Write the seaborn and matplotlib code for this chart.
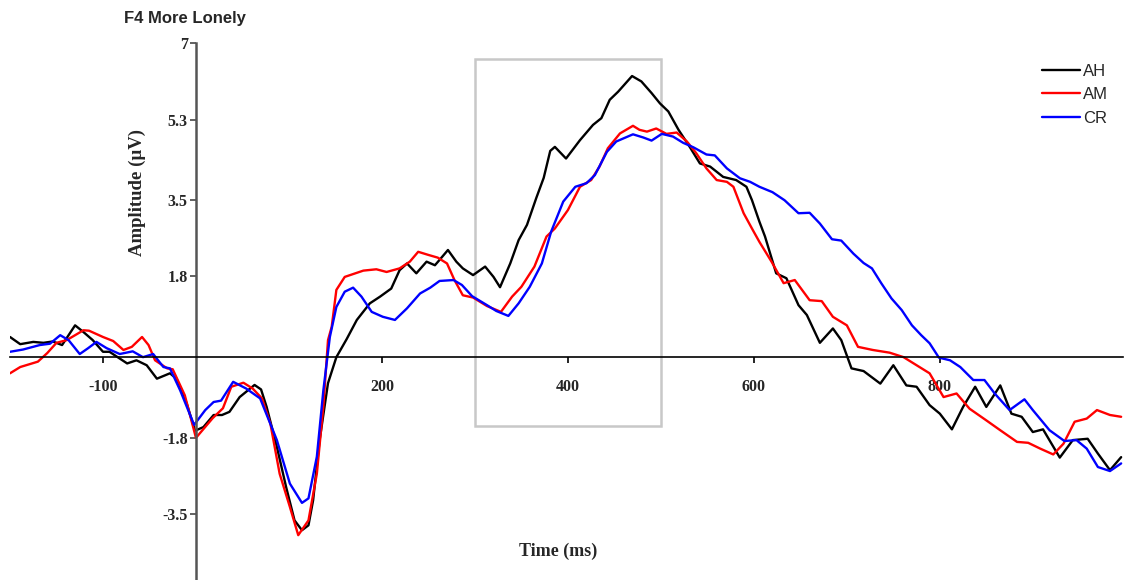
import numpy as np
import pandas as pd
import matplotlib
matplotlib.use("Agg")
import matplotlib.pyplot as plt
from matplotlib.patches import Rectangle
import seaborn as sns

# ERP waveforms at electrode F4, more-lonely group (time in ms, amplitude in µV)
ah_time = [-200, -189, -175, -164, -154, -144, -130, -121, -111, -100, -93, -74, -64, -53, -42, -28, -21, -10, -1,
           8, 19, 28, 36, 47, 63, 70, 76, 87, 97, 106, 114, 121, 126, 133, 142, 151, 162, 173, 187, 198, 210, 219,
           227, 237, 248, 257, 262, 271, 280, 287, 298, 311, 320, 327, 338, 347, 356, 366, 374, 381, 386, 398, 413,
           427, 436, 445, 454, 469, 479, 490, 499, 508, 519, 531, 542, 553, 567, 581, 592, 598, 606, 612, 624, 635,
           648, 657, 671, 685, 694, 705, 718, 736, 750, 764, 775, 789, 800, 813, 825, 838, 850, 865, 877, 888, 900,
           911, 929, 943, 959, 970, 983, 995]
ah_amp = [0.45, 0.29, 0.34, 0.32, 0.35, 0.27, 0.71, 0.56, 0.38, 0.12, 0.12, -0.14, -0.07, -0.18, -0.48, -0.36, -0.48,
          -1.03, -1.64, -1.56, -1.29, -1.29, -1.22, -0.89, -0.62, -0.72, -1.11, -2.0, -2.9, -3.64, -3.86, -3.75,
          -3.19, -1.85, -0.58, 0.0, 0.40, 0.83, 1.20, 1.35, 1.53, 1.94, 2.09, 1.87, 2.13, 2.05, 2.17, 2.39, 2.13,
          1.98, 1.83, 2.02, 1.79, 1.56, 2.09, 2.61, 2.95, 3.55, 4.0, 4.6, 4.69, 4.43, 4.84, 5.18, 5.33, 5.74, 5.92,
          6.27, 6.15, 5.89, 5.66, 5.48, 5.07, 4.69, 4.32, 4.25, 4.02, 3.95, 3.80, 3.50, 3.02, 2.69, 1.87, 1.76,
          1.16, 0.94, 0.32, 0.64, 0.38, -0.25, -0.31, -0.59, -0.18, -0.63, -0.66, -1.07, -1.26, -1.61, -1.11,
          -0.66, -1.11, -0.63, -1.26, -1.33, -1.67, -1.61, -2.24, -1.85, -1.82, -2.15, -2.52, -2.23]

am_time = [-200, -189, -170, -160, -150, -139, -121, -115, -100, -89, -78, -69, -58, -51, -44, -31, -25, -12, 0,
           18, 29, 38, 51, 61, 71, 80, 90, 101, 110, 121, 130, 137, 142, 146, 151, 160, 180, 194, 205, 219, 230,
           239, 250, 260, 270, 278, 287, 298, 313, 328, 340, 350, 364, 377, 386, 400, 413, 425, 434, 443, 456, 470,
           477, 485, 495, 506, 517, 528, 538, 549, 560, 571, 578, 589, 599, 606, 619, 632, 644, 660, 673, 685, 700,
           712, 728, 746, 761, 775, 789, 804, 818, 832, 850, 865, 883, 895, 908, 922, 933, 945, 958, 969, 983, 995]
am_amp = [-0.36, -0.22, -0.10, 0.09, 0.32, 0.38, 0.60, 0.59, 0.45, 0.36, 0.16, 0.23, 0.45, 0.27, -0.07, -0.25,
          -0.27, -0.85, -1.80, -1.36, -1.14, -0.66, -0.57, -0.70, -0.92, -1.48, -2.6, -3.34, -3.97, -3.64, -2.6,
          -1.1, 0.38, 0.68, 1.50, 1.79, 1.93, 1.96, 1.90, 1.98, 2.13, 2.35, 2.28, 2.22, 2.09, 1.72, 1.38, 1.33,
          1.14, 1.01, 1.35, 1.57, 2.02, 2.69, 2.87, 3.28, 3.80, 3.95, 4.25, 4.66, 4.99, 5.16, 5.07, 5.03, 5.10,
          4.98, 5.01, 4.81, 4.55, 4.21, 3.95, 3.91, 3.80, 3.21, 2.83, 2.57, 2.13, 1.65, 1.72, 1.27, 1.25, 0.90,
          0.71, 0.23, 0.16, 0.10, 0.0, -0.18, -0.36, -0.89, -0.81, -1.15, -1.41, -1.63, -1.89, -1.91, -2.04,
          -2.17, -1.93, -1.44, -1.37, -1.18, -1.29, -1.33]

cr_time = [-200, -186, -168, -157, -146, -137, -125, -116, -107, -96, -82, -68, -57, -46, -35, -28, -17, -2, 10,
           19, 27, 40, 54, 69, 87, 101, 114, 121, 130, 137, 144, 151, 160, 169, 178, 189, 201, 214, 227, 241, 252,
           262, 277, 286, 297, 313, 323, 336, 347, 359, 372, 382, 395, 408, 420, 429, 442, 452, 470, 481, 490, 501,
           513, 524, 535, 549, 558, 571, 585, 596, 606, 620, 633, 648, 660, 671, 684, 694, 707, 718, 727, 737, 748,
           759, 770, 780, 789, 799, 811, 822, 836, 848, 859, 875, 891, 900, 918, 934, 947, 958, 970, 983, 995]
cr_amp = [0.12, 0.17, 0.27, 0.30, 0.49, 0.38, 0.07, 0.20, 0.34, 0.20, 0.07, 0.13, 0.0, 0.07, -0.22, -0.25, -0.74,
          -1.51, -1.18, -1.0, -0.97, -0.55, -0.70, -0.92, -1.85, -2.82, -3.25, -3.15, -2.22, -0.74, 0.45, 1.12,
          1.46, 1.55, 1.35, 1.01, 0.90, 0.83, 1.09, 1.42, 1.55, 1.70, 1.72, 1.61, 1.36, 1.16, 1.03, 0.92, 1.20,
          1.57, 2.09, 2.80, 3.47, 3.80, 3.88, 4.06, 4.58, 4.81, 4.97, 4.90, 4.83, 4.98, 4.92, 4.78, 4.68, 4.52,
          4.50, 4.21, 3.99, 3.91, 3.80, 3.68, 3.50, 3.21, 3.22, 2.98, 2.63, 2.60, 2.31, 2.10, 1.98, 1.65, 1.31,
          1.05, 0.71, 0.49, 0.31, -0.01, -0.07, -0.22, -0.51, -0.51, -0.81, -1.18, -0.94, -1.18, -1.63, -1.87,
          -1.85, -2.04, -2.45, -2.54, -2.37]

conditions = ["AH", "AM", "CR"]
colors = {"AH": "#000000", "AM": "#ff0000", "CR": "#0000ff"}

y_ticks = [-3.5, -1.8, 1.8, 3.5, 5.3, 7]
y_tick_labels = ["-3.5", "-1.8", "1.8", "3.5", "5.3", "7"]
x_ticks = [-100, 200, 400, 600, 800]
x_tick_labels = ["-100", "200", "400", "600", "800"]

# analysis window highlighted with a box
window_ms = (300, 500)
window_amp = (-1.53, 6.65)

frames = []
for name, t, a in zip(conditions, [ah_time, am_time, cr_time], [ah_amp, am_amp, cr_amp]):
    frames.append(pd.DataFrame({"time": t, "amp": a, "cond": name}))
df = pd.concat(frames, ignore_index=True)

sns.set_style("white")
plt.rcParams["font.family"] = ["Liberation Serif", "DejaVu Serif"]

W, H = 1133, 580
fig = plt.figure(figsize=(W / 100, H / 100), dpi=100)
ax = fig.add_axes([10 / W, 0.0, (1123 - 10) / W, 1 - 43.3 / H])

sns.lineplot(data=df, x="time", y="amp", hue="cond", hue_order=conditions, palette=colors,
             estimator=None, sort=True, linewidth=1.7, ax=ax, legend=True,
             solid_joinstyle="round", solid_capstyle="round")

ax.add_patch(Rectangle((window_ms[0], window_amp[0]), window_ms[1] - window_ms[0],
                       window_amp[1] - window_amp[0], fill=False, edgecolor="#c8c8c8",
                       linewidth=1.8, zorder=1))

ax.set_xlim(-200, 997)
ax.set_ylim(-4.97, 7)

for side in ["top", "right"]:
    ax.spines[side].set_visible(False)
ax.spines["left"].set_position(("data", 0))
ax.spines["bottom"].set_position(("data", 0))
ax.spines["left"].set_color("#555555")
ax.spines["left"].set_linewidth(1.8)
ax.spines["bottom"].set_color("black")
ax.spines["bottom"].set_linewidth(1.2)

ax.set_yticks(y_ticks)
ax.set_yticklabels(y_tick_labels, fontweight="bold", fontsize=11.5)
ax.set_xticks(x_ticks)
ax.set_xticklabels(x_tick_labels, fontweight="bold", fontsize=11.5)
ax.tick_params(axis="y", direction="out", length=4, width=1.3, color="#555555", pad=2, left=True)
ax.tick_params(axis="x", direction="out", length=4, width=1.2, color="black", pad=12, bottom=True)
ax.set_xlabel("")
ax.set_ylabel("")

fig.text(558 / W, 1 - 551 / H, "Time (ms)", ha="center", va="center",
         fontsize=13, fontweight="bold")
fig.text(137 / W, 1 - 193 / H, "Amplitude (µV)", ha="center", va="center", rotation=90,
         fontsize=13.5, fontweight="bold")
fig.text(124 / W, 1 - 19 / H, "F4 More Lonely", ha="left", va="center",
         fontsize=12, fontweight="bold", family=["Liberation Sans", "DejaVu Sans"])

handles, labels = ax.get_legend_handles_labels()
leg = ax.legend(handles, labels, loc="upper left", bbox_to_anchor=(1042 / W, 1 - 64 / H),
                bbox_transform=fig.transFigure, frameon=False, borderpad=0, borderaxespad=0,
                handlelength=2.3, handletextpad=0.15, labelspacing=0.5,
                prop={"family": ["Liberation Sans", "DejaVu Sans"], "size": 12})

fig.savefig("out.png", dpi=100)
